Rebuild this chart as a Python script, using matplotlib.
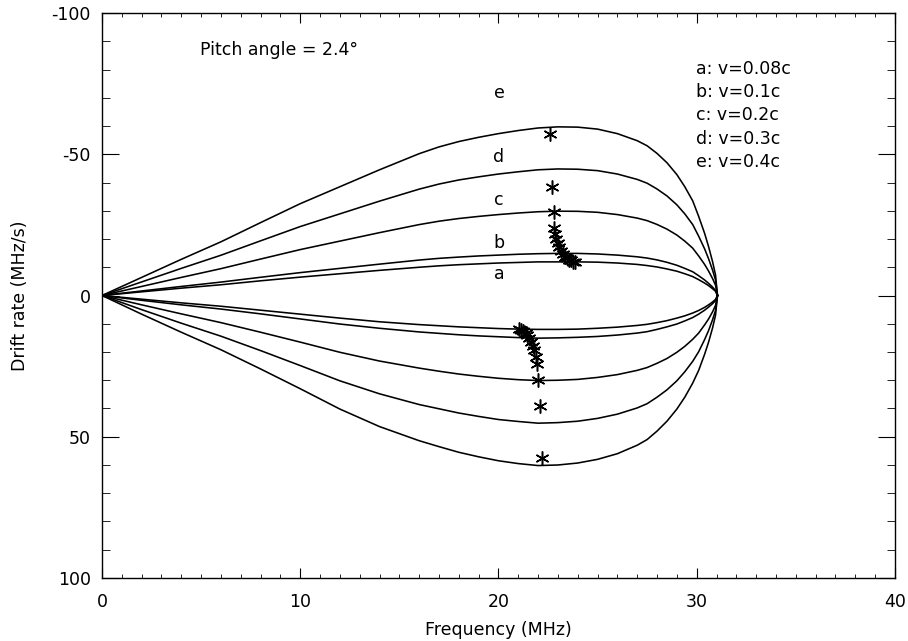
import numpy as np
import matplotlib
matplotlib.use("Agg")
import matplotlib.pyplot as plt
from matplotlib.ticker import MultipleLocator

plt.rcParams['font.family'] = ['DejaVu Sans']
plt.rcParams['axes.unicode_minus'] = False

# Frequency grid (MHz) at which the curves were read
freq = [0, 2, 4, 6, 8, 10, 12, 14, 16, 17, 18, 19, 20, 21, 22, 23, 24, 25, 26, 27,
        27.5, 28, 28.5, 29, 29.4, 29.8, 30.1, 30.4, 30.6, 30.8, 30.95, 31.05]

# Lower branch drift rates (MHz/s)
lower_a = [0, 1.3, 2.6, 3.8, 5.2, 6.6, 8.0, 9.3, 10.3, 10.7, 11.1, 11.4, 11.7, 11.9, 12.0, 12.0,
           11.9, 11.6, 11.2, 10.6, 10.2, 9.6, 8.9, 8.0, 7.2, 6.2, 5.3, 4.2, 3.3, 2.3, 1.4, 0]
lower_b = [0, 1.7, 3.3, 4.8, 6.5, 8.3, 10.1, 11.6, 12.9, 13.4, 13.9, 14.3, 14.6, 14.9, 15.1, 15.0,
           14.8, 14.5, 14.0, 13.3, 12.8, 12.0, 11.1, 10.1, 9.0, 7.8, 6.6, 5.2, 4.1, 2.9, 1.8, 0]
lower_c = [0, 3.3, 6.5, 9.6, 13.0, 16.5, 20.1, 23.2, 25.7, 26.8, 27.8, 28.6, 29.3, 29.8, 30.1, 30.0,
           29.7, 29.0, 28.0, 26.5, 25.5, 24.0, 22.3, 20.1, 18.0, 15.5, 13.3, 10.4, 8.3, 5.8, 3.5, 0]
lower_d = [0, 5.0, 9.8, 14.4, 19.5, 24.8, 30.2, 34.8, 38.6, 40.1, 41.6, 42.8, 43.9, 44.6, 45.2, 45.0,
           44.5, 43.5, 42.0, 39.8, 38.3, 36.0, 33.4, 30.2, 27.0, 23.3, 19.9, 15.6, 12.4, 8.6, 5.3, 0]
lower_e = [0, 6.6, 13.0, 19.2, 26.0, 33.0, 40.2, 46.4, 51.4, 53.5, 55.5, 57.1, 58.5, 59.5, 60.2, 60.0,
           59.3, 58.0, 56.0, 53.0, 51.0, 48.0, 44.5, 40.2, 36.0, 31.0, 26.5, 20.8, 16.5, 11.5, 7.0, 0]

# Upper branch drift rates (MHz/s), drawn with negative sign
upper_a = [0, 1.3, 2.6, 3.8, 5.2, 6.5, 7.7, 8.9, 10.0, 10.5, 10.9, 11.2, 11.5, 11.7, 11.9, 11.9,
           11.9, 11.8, 11.5, 11.0, 10.6, 10.1, 9.4, 8.6, 7.7, 6.7, 5.6, 4.4, 3.5, 2.4, 1.5, 0]
upper_b = [0, 1.6, 3.2, 4.75, 6.45, 8.1, 9.6, 11.1, 12.55, 13.15, 13.6, 14.0, 14.3, 14.6, 14.8, 14.9,
           14.9, 14.7, 14.3, 13.7, 13.25, 12.6, 11.75, 10.7, 9.6, 8.4, 7.0, 5.5, 4.3, 3.0, 1.8, 0]
upper_c = [0, 3.2, 6.4, 9.5, 12.9, 16.25, 19.25, 22.25, 25.1, 26.3, 27.25, 28.0, 28.65, 29.2, 29.65, 29.85,
           29.8, 29.45, 28.65, 27.4, 26.5, 25.15, 23.5, 21.4, 19.25, 16.75, 14.0, 11.0, 8.65, 6.0, 3.65, 0]
upper_d = [0, 4.8, 9.6, 14.25, 19.35, 24.4, 28.9, 33.4, 37.65, 39.45, 40.9, 42.0, 43.0, 43.8, 44.5, 44.8,
           44.7, 44.2, 43.0, 41.1, 39.75, 37.7, 35.25, 32.1, 28.9, 25.1, 21.0, 16.5, 13.0, 9.0, 5.5, 0]
upper_e = [0, 6.4, 12.8, 19.0, 25.8, 32.5, 38.5, 44.5, 50.2, 52.6, 54.5, 56.0, 57.3, 58.4, 59.3, 59.7,
           59.6, 58.9, 57.3, 54.8, 53.0, 50.3, 47.0, 42.8, 38.5, 33.5, 28.0, 22.0, 17.3, 12.0, 7.3, 0]

# Asterisk points
star_up_f = [22.59, 22.69, 22.79, 22.79, 22.84, 22.89, 23.0, 23.05, 23.15, 23.25, 23.35, 23.45, 23.55, 23.65, 23.75, 23.85]
star_up_v = [-57.2, -38.5, -29.7, -24.0, -21.9, -20.1, -18.7, -17.3, -15.9, -14.8, -13.8, -13.1, -12.7, -12.4, -12.0, -12.0]
star_lo_f = [22.19, 22.1, 22.0, 21.93, 21.88, 21.78, 21.72, 21.63, 21.53, 21.46, 21.38, 21.26, 21.13, 21.03]
star_lo_v = [57.7, 39.2, 29.8, 24.1, 21.8, 19.4, 17.7, 16.5, 15.2, 14.1, 13.3, 12.6, 12.1, 11.8]

curve_letters = ['e', 'd', 'c', 'b', 'a']
curve_letter_y = [-71.8, -48.9, -33.8, -18.5, -7.7]
legend_lines = ['a: v=0.08c', 'b: v=0.1c', 'c: v=0.2c', 'd: v=0.3c', 'e: v=0.4c']
legend_y = [-80.2, -72.1, -64.0, -55.5, -47.3]

FS = 12.5

fig = plt.figure(figsize=(9.08, 6.41), dpi=100)
ax = fig.add_axes([0.1123, 0.0983, 0.8733, 0.8814])

for arr in [lower_a, lower_b, lower_c, lower_d, lower_e]:
    ax.plot(freq, arr, color='black', lw=1.15)
for arr in [upper_a, upper_b, upper_c, upper_d, upper_e]:
    ax.plot(freq, -np.asarray(arr), color='black', lw=1.15)

star = (6, 2, 0)
ax.plot(star_up_f, star_up_v, ls='none', marker=star, ms=10, mew=1.1, color='black')
ax.plot(star_lo_f, star_lo_v, ls='none', marker=star, ms=10, mew=1.1, color='black')

ax.set_xlim(0, 40)
ax.set_ylim(100, -100)
ax.xaxis.set_major_locator(MultipleLocator(10))
ax.xaxis.set_minor_locator(MultipleLocator(1))
ax.yaxis.set_major_locator(MultipleLocator(50))
ax.yaxis.set_minor_locator(MultipleLocator(10))
ax.tick_params(axis='both', which='both', direction='in', top=True, right=True)
ax.tick_params(axis='x', which='major', length=7, width=0.8, pad=11, labelsize=FS)
ax.tick_params(axis='x', which='minor', length=3, width=0.6)
ax.tick_params(axis='y', which='major', length=12, width=0.8, pad=8, labelsize=FS)
ax.tick_params(axis='y', which='minor', length=6, width=0.6)
for s in ax.spines.values():
    s.set_linewidth(1.0)

ax.set_xlabel('Frequency (MHz)', fontsize=FS, labelpad=7)
ax.set_ylabel('Drift rate (MHz/s)', fontsize=FS, labelpad=16)

ax.text(4.96, -87, 'Pitch angle = 2.4\u00b0', fontsize=FS, ha='left', va='center')
for t, y in zip(curve_letters, curve_letter_y):
    ax.text(20.03, y, t, fontsize=FS, ha='center', va='center')
for t, y in zip(legend_lines, legend_y):
    ax.text(29.96, y, t, fontsize=FS, ha='left', va='center')

fig.savefig('out.png', dpi=100)
